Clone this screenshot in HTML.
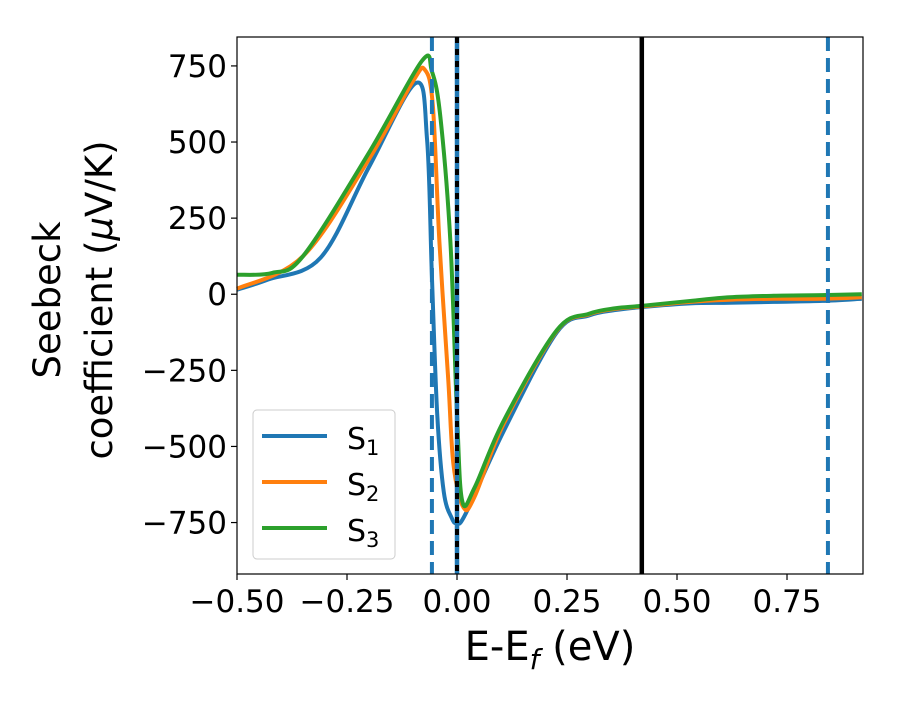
<!DOCTYPE html>
<html><head><meta charset="utf-8"><style>
body{margin:0;background:#fff}
svg text{font-family:"DejaVu Sans","Liberation Sans",sans-serif;fill:#000}
</style></head><body>
<svg id="chart" width="900" height="700" xmlns="http://www.w3.org/2000/svg">
<g id="grid"></g>
<g id="series"></g>
<rect x="237" y="37" width="626" height="537" fill="none" stroke="#000" stroke-width="1.2"/>
<g id="ticks"></g>
<text x="550" y="660" font-size="40" text-anchor="middle">E-E<tspan font-size="28" dy="9" font-style="italic">f</tspan><tspan dy="-9"> (eV)</tspan></text>
<text transform="translate(60,300) rotate(-90)" font-size="37" text-anchor="middle">Seebeck</text>
<text transform="translate(112,300) rotate(-90)" font-size="37" text-anchor="middle">coefficient  (<tspan font-style="italic">μ</tspan>V/K)</text>
<g>
<rect x="253" y="410" width="142" height="149" rx="4" fill="#fff" fill-opacity="0.8" stroke="#ccc"/>
<line x1="262" y1="436" x2="327" y2="436" stroke="#1f77b4" stroke-width="4"/>
<text x="347" y="449" font-size="30">S<tspan font-size="21" dy="6">1</tspan></text>
<line x1="262" y1="482" x2="327" y2="482" stroke="#ff7f0e" stroke-width="4"/>
<text x="347" y="495" font-size="30">S<tspan font-size="21" dy="6">2</tspan></text>
<line x1="262" y1="528" x2="327" y2="528" stroke="#2ca02c" stroke-width="4"/>
<text x="347" y="541" font-size="30">S<tspan font-size="21" dy="6">3</tspan></text>
</g>
</svg>
<script>
const xTicks=[-0.5,-0.25,0,0.25,0.5,0.75];
const xTickLabels=["−0.50","−0.25","0.00","0.25","0.50","0.75"];
const yTicks=[750,500,250,0,-250,-500,-750];
const yTickLabels=["750","500","250","0","−250","−500","−750"];
const e1=[-0.5,-0.43,-0.31,-0.2,-0.093,-0.068,-0.057,-0.045,-0.03,-0.012,0.0,0.02,0.106,0.227,0.30,0.36,0.42,0.53,0.62,0.72,0.83,0.92];
const s1=[15,48,120,418,694,507,57,-393,-650,-735,-751,-720,-450,-125,-70,-52,-42,-30,-28,-25,-22,-15];
const e2=[-0.5,-0.35,-0.2,-0.1,-0.073,-0.055,-0.04,-0.02,-0.008,0.015,0.04,0.106,0.227,0.3,0.36,0.42,0.53,0.62,0.72,0.83,0.92];
const s2=[18,125,444,700,737,621,172,-278,-560,-701,-665,-426,-120,-66,-48,-40,-25,-18,-15,-15,-10];
const e3=[-0.5,-0.42,-0.35,-0.2,-0.08,-0.057,-0.038,-0.015,0.0,0.012,0.04,0.106,0.227,0.3,0.36,0.42,0.53,0.62,0.72,0.83,0.92];
const s3=[64,70,125,465,766,732,585,172,-393,-680,-635,-416,-118,-64,-46,-38,-22,-10,-5,-3,0];
const dashedLinesX=[-0.057,0,0.843];
const solidLineX=[0.42];
const X0=237,X1=863,Y0=37,Y1=574,XMIN=-0.5,XMAX=0.9227,YMIN=-919,YMAX=845;
const xs=v=>X0+(v-XMIN)/(XMAX-XMIN)*(X1-X0);
const ys=v=>Y1-(v-YMIN)/(YMAX-YMIN)*(Y1-Y0);
const NS="http://www.w3.org/2000/svg";
function mk(tag,attrs,parent){const el=document.createElementNS(NS,tag);for(const k in attrs)el.setAttribute(k,attrs[k]);parent.appendChild(el);return el;}
const ser=document.getElementById('series'),tk=document.getElementById('ticks');
function path(E,S){const p=E.map((e,i)=>[xs(e),ys(S[i])]);let d=`M${p[0][0]},${p[0][1]}`;
for(let i=0;i<p.length-1;i++){const a=p[Math.max(i-1,0)],b=p[i],c=p[i+1],n=p[Math.min(i+2,p.length-1)];
const c1=[b[0]+(c[0]-a[0])/6,b[1]+(c[1]-a[1])/6],c2=[c[0]-(n[0]-b[0])/6,c[1]-(n[1]-b[1])/6];
d+=`C${c1[0]},${c1[1]} ${c2[0]},${c2[1]} ${c[0]},${c[1]}`;}return d;}
[[e1,s1,'#1f77b4','series-s1'],[e2,s2,'#ff7f0e','series-s2'],[e3,s3,'#2ca02c','series-s3']].forEach(([E,S,c,n])=>{
const el=mk('path',{d:path(E,S),fill:'none',stroke:c,'stroke-width':4,'stroke-linejoin':'round'},ser);

});
dashedLinesX.forEach((v,i)=>{
if(v===0){const b=mk('line',{x1:xs(v),x2:xs(v),y1:Y0,y2:Y1,stroke:'#1f77b4','stroke-width':4.5},ser);


const k=mk('line',{x1:xs(v),x2:xs(v),y1:Y0,y2:Y1,stroke:'#000','stroke-width':4,'stroke-dasharray':'6 6'},ser);

}
else{const l=mk('line',{x1:xs(v),x2:xs(v),y1:Y0,y2:Y1,stroke:'#1f77b4','stroke-width':4,'stroke-dasharray':'14 7'},ser);

}});
solidLineX.forEach(v=>{const l=mk('line',{x1:xs(v),x2:xs(v),y1:Y0,y2:Y1,stroke:'#000','stroke-width':4.5},ser);

});
xTicks.forEach((v,i)=>{const x=xs(v);
const t=mk('line',{x1:x,x2:x,y1:Y1,y2:Y1+6,stroke:'#000','stroke-width':1.2},tk);


const tx=mk('text',{x:x,y:Y1+38,'font-size':31,'text-anchor':'middle'},tk);tx.textContent=xTickLabels[i];

});
yTicks.forEach((v,i)=>{const y=ys(v);
const t=mk('line',{x1:X0-6,x2:X0,y1:y,y2:y,stroke:'#000','stroke-width':1.2},tk);


const tx=mk('text',{x:X0-10,y:y+11,'font-size':31,'text-anchor':'end'},tk);tx.textContent=yTickLabels[i];

});
</script>
</body></html>
